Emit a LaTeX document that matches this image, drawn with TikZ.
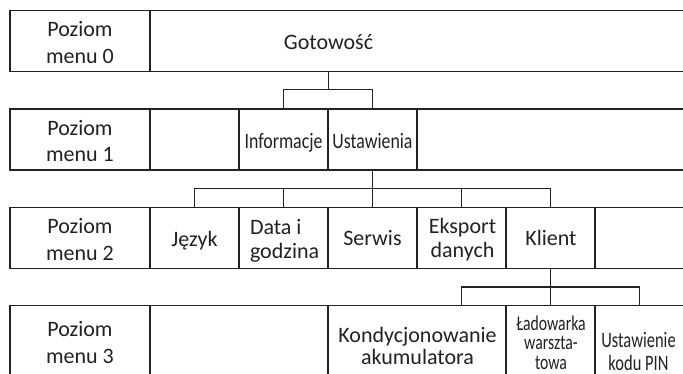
\documentclass[tikz,border=0pt]{standalone}
\usepackage{fontspec}
\setmainfont{Carlito}
\newfontfamily\narrowA{Carlito}[FakeStretch=0.81]
\newfontfamily\narrowB{Carlito}[FakeStretch=0.75]
\definecolor{ink}{HTML}{222222}
% stacked lines, the node's base is the baseline of the first line
\newcommand\stack[2][c]{\begin{tabular}[t]{@{}#1@{}}#2\end{tabular}}
\tikzset{
  cell/.style={draw=ink, line width=1.1pt, inner sep=0pt, outer sep=0pt,
               minimum height=61pt, anchor=north west},
  lbl/.style={text=ink, inner sep=0pt, outer sep=0pt, anchor=base,
              font=\fontsize{22}{26.6}\selectfont},
  conn/.style={draw=ink, line width=1.1pt},
}
\begin{document}
\begin{tikzpicture}[x=1pt, y=-1pt]
\fill[white] (0,0) rectangle (683,374);
\useasboundingbox (0,0) rectangle (683,374);

% ---- level 0
\node[cell, minimum width=140pt] (L0) at (10,10.5) {};
\node[cell, minimum width=534pt] (G)  at (150,10.5) {};
\node[lbl] (L0t) at (80,36.7) {\stack{Poziom\\menu 0}};
\node[lbl] (Gt)  at (328.5,49.3) {Gotowość};

% ---- level 1
\node[cell, minimum width=140pt] (L1)  at (10,109) {};
\node[cell, minimum width=89pt]  (E1a) at (150,109) {};
\node[cell, minimum width=89pt]  (Inf) at (239,109) {};
\node[cell, minimum width=89pt]  (Ust) at (328,109) {};
\node[cell, minimum width=267pt] (E1b) at (417,109) {};
\node[lbl] (L1t)  at (80,135.3) {\stack{Poziom\\menu 1}};
\node[lbl, font=\fontsize{22}{26}\narrowA] (Inft) at (283.5,148.3) {Informacje};
\node[lbl, font=\fontsize{22}{26}\narrowA] (Ustt) at (372.5,148.3) {Ustawienia};

% ---- level 2
\node[cell, minimum width=140pt] (L2)   at (10,207.5) {};
\node[cell, minimum width=89pt]  (Jez)  at (150,207.5) {};
\node[cell, minimum width=89pt]  (Data) at (239,207.5) {};
\node[cell, minimum width=89pt]  (Serw) at (328,207.5) {};
\node[cell, minimum width=89pt]  (Eksp) at (417,207.5) {};
\node[cell, minimum width=89pt]  (Kl)   at (506,207.5) {};
\node[cell, minimum width=89pt]  (E2)   at (595,207.5) {};
\node[lbl] (L2t)   at (80,234) {\stack{Poziom\\menu 2}};
\node[lbl] (Jezt)  at (194.5,246.7) {Język};
\node[lbl, anchor=base west, font=\fontsize{22}{23.3}\selectfont] (Datat) at (250,235) {\stack[l]{Data i\\godzina}};
\node[lbl] (Serwt) at (372.5,246) {Serwis};
\node[lbl, font=\fontsize{22}{24}\selectfont] (Ekspt) at (462.5,233.3) {\stack{Eksport\\danych}};
\node[lbl] (Klt)   at (551,246) {Klient};

% ---- level 3
\node[cell, minimum width=140pt, minimum height=77pt] (L3)   at (10,305.5) {};
\node[cell, minimum width=178pt, minimum height=77pt] (E3)   at (150,305.5) {};
\node[cell, minimum width=178pt, minimum height=77pt] (Kond) at (328,305.5) {};
\node[cell, minimum width=89pt,  minimum height=77pt] (Lad)  at (506,305.5) {};
\node[cell, minimum width=89pt,  minimum height=77pt] (UPin) at (595,305.5) {};
\node[lbl] (L3t) at (80,336.7) {\stack{Poziom\\menu 3}};
\node[lbl, font=\fontsize{22}{20.7}\selectfont] (Kondt) at (417.5,342.7) {\stack{Kondycjonowanie\\akumulatora}};
\node[lbl, font=\fontsize{21}{19.3}\narrowB] (Ladt) at (551,330.5) {\stack{Ładowarka\\warszta-\\towa}};
\node[lbl, font=\fontsize{22}{22.7}\narrowB] (UPint) at (638.5,347.3) {\stack{Ustawienie\\kodu PIN}};

% ---- connectors 0 -> 1
\draw[conn] (Gt |- G.south) -- ++(0,17.8) coordinate (k0);
\draw[conn] (Inf.north) |- (k0) -| (Ust.north);

% ---- connectors 1 -> 2
\draw[conn] (Ust.south) -- ++(0,18.5) coordinate (k1);
\draw[conn] (Jez.north) |- (k1) -| (Kl.north);
\draw[conn] (Data.north) -- (Data.north |- k1);
\draw[conn] (Serw.north) -- (k1);
\draw[conn] (Eksp.north) -- (Eksp.north |- k1);

% ---- connectors 2 -> 3
\draw[conn] (Kl.south) -- ++(0,18.5) coordinate (k2);
\draw[conn] (Kond.north -| Eksp.south) |- (k2) -| (UPin.north);
\draw[conn] (Lad.north) -- (k2);
\end{tikzpicture}
\end{document}
